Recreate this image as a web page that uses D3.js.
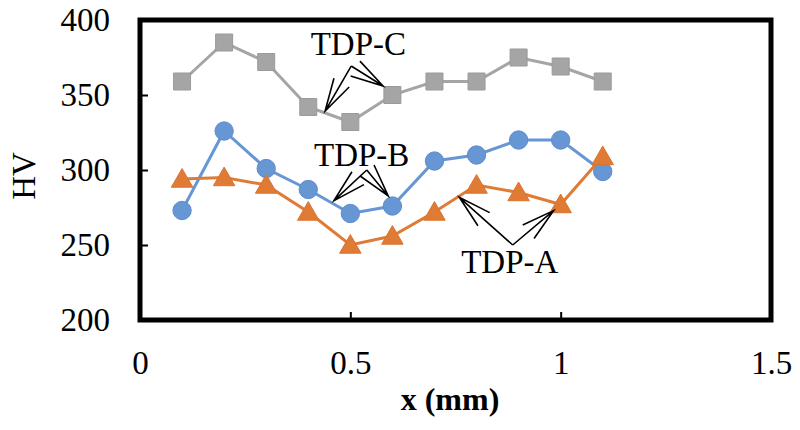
<!DOCTYPE html>
<html>
<head>
<meta charset="utf-8">
<script src="https://cdn.jsdelivr.net/npm/d3@7"></script>
<style>
  body { margin: 0; background: #fff; }
  .chart text { font-family: "Liberation Serif", "Times New Roman", serif; fill: #000; }
</style>
</head>
<body>
<div class="chart"></div>
<script>
// positions along the sample (mm)
const xValues = [0.1, 0.2, 0.3, 0.4, 0.5, 0.6, 0.7, 0.8, 0.9, 1.0, 1.1];
// hardness
const tdpA = [294, 295, 290, 272, 250, 256, 272, 290, 285, 277, 309];
const tdpB = [273, 326, 301, 287, 271, 276, 306, 310, 320, 320, 299];
const tdpC = [359, 385, 372, 342, 332, 350, 359, 359, 375, 369, 359];

const xTicks = [0, 0.5, 1, 1.5];
const yTicks = [200, 250, 300, 350, 400];

// callout labels and arrows, in data units
const labels = [
  { text: "TDP-C", x: 0.519, y: 376.7 },
  { text: "TDP-B", x: 0.527, y: 302.7 },
  { text: "TDP-A", x: 0.879, y: 231.1 },
];
const arrows = [
  { from: [0.502, 369.3], to: [0.440, 339.3] },
  { from: [0.502, 369.3], to: [0.578, 356.0] },
  { from: [0.539, 300.0], to: [0.461, 279.6] },
  { from: [0.539, 300.0], to: [0.590, 282.7] },
  { from: [0.886, 250.0], to: [0.759, 281.8] },
  { from: [0.886, 250.0], to: [0.983, 272.9] },
];

const W = 800, H = 430;
const margin = { top: 20, right: 29, bottom: 110, left: 140 };
const width = W - margin.left - margin.right;
const height = H - margin.top - margin.bottom;

const svg = d3
  .select(".chart")
  .append("svg")
  .attr("width", W)
  .attr("height", H);

const g = svg
  .append("g")
  .attr("transform", `translate(${margin.left},${margin.top})`);

const x = d3.scaleLinear().domain([0, 1.5]).range([0, width]);
const y = d3.scaleLinear().domain([200, 400]).range([height, 0]);

// Axes (ticks point inward)
const xAxis = g
  .append("g")
  .attr("transform", `translate(0,${height})`)
  .call(d3.axisBottom(x).tickValues(xTicks).tickSize(-8).tickSizeOuter(0).tickPadding(31).tickFormat(d3.format("")));
const yAxis = g
  .append("g")
  .call(d3.axisLeft(y).tickValues(yTicks).tickSize(-8).tickSizeOuter(0).tickPadding(30));

[xAxis, yAxis].forEach((a) => {
  a.select(".domain").remove();
  a.selectAll(".tick line").attr("stroke", "#000").attr("stroke-width", 2);
  a.selectAll(".tick text").attr("font-size", "33px").attr("font-family", "Liberation Serif");
});

// Series: C below, A on top
const series = [
  { name: "TDP-C", values: tdpC, color: "#A5A5A5", stroke: "#9a9a9a", shape: d3.symbolSquare, size: 289 },
  { name: "TDP-B", values: tdpB, color: "#6796D5", stroke: "#5f8dcc", shape: d3.symbolCircle, size: 265 },
  { name: "TDP-A", values: tdpA, color: "#E07B35", stroke: "#d9742f", shape: d3.symbolTriangle, size: 200 },
];

const line = d3
  .line()
  .x((d) => x(d[0]))
  .y((d) => y(d[1]));

series.forEach((s) => {
  const pts = xValues.map((xv, i) => [xv, s.values[i]]);
  g.append("path")
    .datum(pts)
    .attr("fill", "none")
    .attr("stroke", s.color)
    .attr("stroke-width", 3)
    .attr("d", line);

  g.selectAll(null)
    .data(pts)
    .enter()
    .append("path")
    .attr("transform", (d) => {
      // triangle symbol centroid sits low; shift to box centre
      const dy = s.shape === d3.symbolTriangle ? 2 : 0;
      return `translate(${x(d[0])},${y(d[1]) + dy})`;
    })
    .attr("d", d3.symbol().type(s.shape).size(s.size))
    .attr("fill", s.color)
    .attr("stroke", s.stroke)
    .attr("stroke-width", 1);
});

// Frame
g.append("rect")
  .attr("x", 0)
  .attr("y", 0)
  .attr("width", width)
  .attr("height", height)
  .attr("fill", "none")
  .attr("stroke", "#000")
  .attr("stroke-width", 5);

// Callout arrows with open heads
const barb = 34;
const spread = (15 * Math.PI) / 180;
arrows.forEach((a) => {
  const x1 = x(a.from[0]), y1 = y(a.from[1]);
  const x2 = x(a.to[0]), y2 = y(a.to[1]);
  const ang = Math.atan2(y1 - y2, x1 - x2);
  const p = d3.path();
  p.moveTo(x1, y1);
  p.lineTo(x2, y2);
  p.moveTo(x2 + barb * Math.cos(ang - spread), y2 + barb * Math.sin(ang - spread));
  p.lineTo(x2, y2);
  p.lineTo(x2 + barb * Math.cos(ang + spread), y2 + barb * Math.sin(ang + spread));
  g.append("path")
    .attr("d", p.toString())
    .attr("fill", "none")
    .attr("stroke", "#000")
    .attr("stroke-width", 1.6);
});

g.selectAll(".callout")
  .data(labels)
  .enter()
  .append("text")
  .attr("class", "callout")
  .attr("x", (d) => x(d.x))
  .attr("y", (d) => y(d.y))
  .attr("text-anchor", "middle")
  .attr("font-size", "33px")
  .text((d) => d.text);

// Axis titles
svg
  .append("text")
  .attr("transform", "translate(35,176) rotate(-90)")
  .attr("text-anchor", "middle")
  .attr("font-size", "33px")
  .text("HV");

svg
  .append("text")
  .attr("x", 450)
  .attr("y", 410)
  .attr("text-anchor", "middle")
  .attr("font-size", "32px")
  .attr("font-weight", "700")
  .text("x (mm)");
</script>
</body>
</html>
